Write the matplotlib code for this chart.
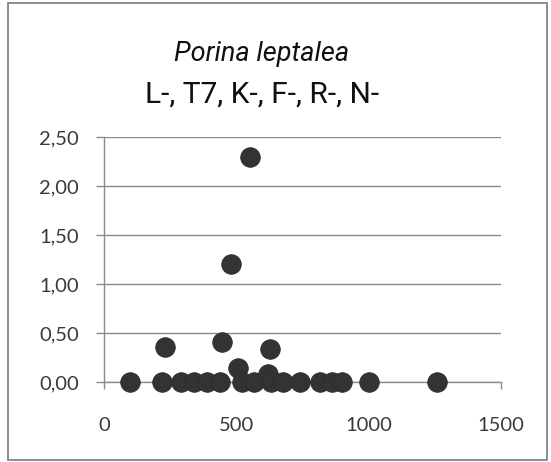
import matplotlib
matplotlib.use("Agg")
import matplotlib.pyplot as plt
from matplotlib.patches import Rectangle
from matplotlib.ticker import FuncFormatter

# data
x_vals = [100, 220, 230, 290, 340, 390, 440, 445, 480, 505, 520, 550, 565,
          620, 628, 630, 675, 740, 815, 860, 900, 1000, 1260]
y_vals = [0.00, 0.00, 0.36, 0.00, 0.00, 0.00, 0.00, 0.41, 1.20, 0.14, 0.00, 2.30, 0.00,
          0.08, 0.34, 0.00, 0.00, 0.00, 0.00, 0.00, 0.00, 0.00, 0.00]
x_ticks = [0, 500, 1000, 1500]
y_ticks = [0.0, 0.5, 1.0, 1.5, 2.0, 2.5]
title_line1 = "Porina leptalea"
title_line2 = "L-, T7, K-, F-, R-, N-"

W, H = 551, 462
fig = plt.figure(figsize=(W / 100, H / 100), dpi=100)
fig.patch.set_facecolor("white")

# outer chart border
fig.add_artist(Rectangle((8 / W, 1 - 460 / H), (547 - 8) / W, (460 - 3) / H,
                         transform=fig.transFigure, fill=False,
                         edgecolor="#858585", linewidth=1.3))

ax = fig.add_axes([104 / W, 1 - 382 / H, (501 - 104) / W, (382 - 137) / H])
ax.set_xlim(0, 1500)
ax.set_ylim(0, 2.5)

ax.scatter(x_vals, y_vals, s=200, color="#333333", edgecolors="#2a2a2a",
           linewidths=0.5, zorder=3, clip_on=False)

ax.set_xticks(x_ticks)
ax.set_yticks(y_ticks)
ax.yaxis.set_major_formatter(FuncFormatter(lambda v, p: f"{v:.2f}".replace(".", ",")))
ax.xaxis.set_major_formatter(FuncFormatter(lambda v, p: f"{int(v)}"))

ax.grid(axis="y", color="#8a8a8a", linewidth=1.0)
ax.set_axisbelow(True)
for s in ["top", "right"]:
    ax.spines[s].set_visible(False)
for s in ["left", "bottom"]:
    ax.spines[s].set_color("#8a8a8a")
    ax.spines[s].set_linewidth(1.0)

ax.tick_params(axis="y", direction="out", length=6, width=1.0, color="#8a8a8a",
               pad=12, labelsize=14.5, labelcolor="#3a3a3a")
ax.tick_params(axis="x", direction="out", length=5, width=1.0, color="#8a8a8a",
               pad=20, labelsize=14.5, labelcolor="#3a3a3a")
for lab in ax.get_xticklabels() + ax.get_yticklabels():
    lab.set_fontfamily("Lato")

fig.text(262 / W, 1 - 61 / H, title_line1, ha="center", va="baseline",
         fontsize=19.5, fontstyle="italic", family="Roboto", color="#111111")
fig.text(262 / W, 1 - 103 / H, title_line2, ha="center", va="baseline",
         fontsize=21.5, family="Roboto", color="#111111")

fig.savefig("out.png", dpi=100, facecolor="white")
